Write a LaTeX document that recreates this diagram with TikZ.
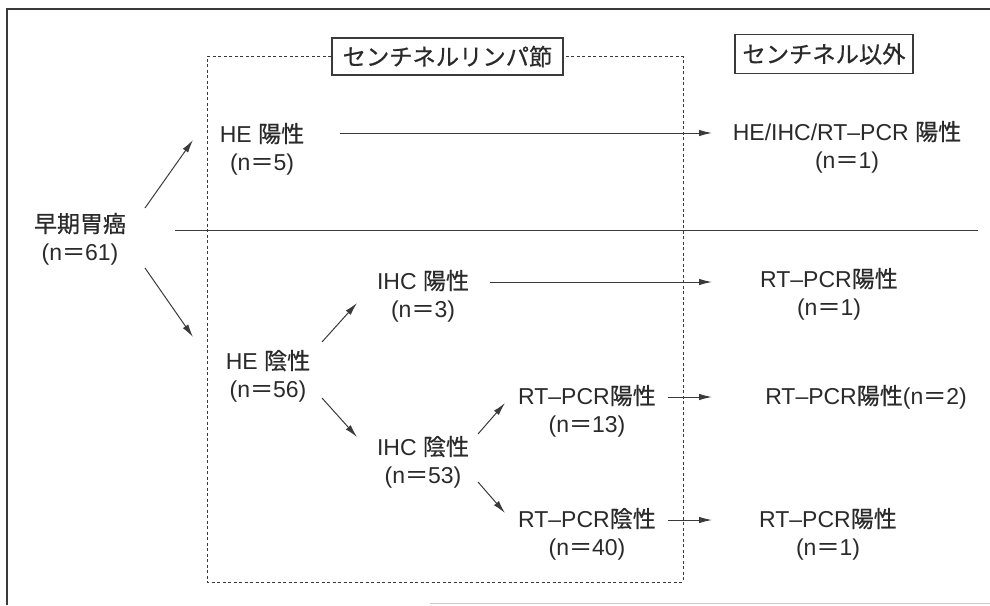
\documentclass[tikz,border=0pt]{standalone}
\usepackage{fontspec}
\setmainfont{Liberation Sans}
\newfontfamily\cjkf{Noto Sans CJK JP}[FakeBold=0.6]
\newcommand\jp[1]{{\cjkf #1}}
\usetikzlibrary{arrows.meta}
\definecolor{ink}{HTML}{2A2A2A}
\definecolor{lineink}{HTML}{3A3A3A}
\tikzset{
  lbl/.style={align=center, inner sep=0pt, text=ink, font=\fontsize{23pt}{28pt}\selectfont},
  titlebox/.style={draw=lineink, line width=1.3pt, inner xsep=5pt, inner ysep=4pt, text=ink, font=\fontsize{23.3pt}{26pt}\selectfont\cjkf},
  arr/.style={draw=lineink, line width=1pt, -{Latex[length=13pt,width=6.5pt]}},
  sep/.style={draw=lineink, line width=1pt},
  dashbox/.style={draw=lineink, line width=1pt, dash pattern=on 3pt off 2.5pt},
}
\begin{document}
\begin{tikzpicture}[x=1pt,y=-1pt]
\useasboundingbox (0,0) rectangle (990,605);
% outer frame
\coordinate (fbl) at (7,605);
\coordinate (ftl) at (7,9);
\coordinate (ftr) at (990,9);
\draw[lineink, line width=1.1pt] (fbl) -- (ftl) -- (ftr);
\coordinate (gb1) at (430,603);
\coordinate (gb2) at (990,603);
\draw[black!20, line width=1pt] (gb1) -- (gb2);

% title boxes
\node[titlebox, minimum width=231pt, minimum height=37pt] (t1) at (447.5,56.5) {センチネルリンパ節};
\node[titlebox, minimum width=178pt, minimum height=39pt] (t2) at (824,54) {センチネル以外};

% dashed box
\coordinate (dl) at (207,56.5);
\coordinate (dbl) at (207,582);
\coordinate (dbr) at (683,582);
\coordinate (dr) at (683,56.5);
\draw[dashbox] (t1.west) -- (dl) -- (dbl) -- (dbr) -- (dr) -- (t1.east);

% separator line
\coordinate (s1) at (175,230);
\coordinate (s2) at (978,230);
\draw[sep] (s1) -- (s2);

% nodes
\node[lbl] (root) at (80,239) {\jp{早期胃癌}\\(n\jp{＝}61)};
\node[lbl] (hep)  at (262,149) {HE \jp{陽性}\\(n\jp{＝}5)};
\node[lbl] (hen)  at (268,376) {HE \jp{陰性}\\(n\jp{＝}56)};
\node[lbl] (ihcp) at (423,296) {IHC \jp{陽性}\\(n\jp{＝}3)};
\node[lbl] (ihcn) at (423,462) {IHC \jp{陰性}\\(n\jp{＝}53)};
\node[lbl] (rtp)  at (587,411) {RT–PCR\jp{陽性}\\(n\jp{＝}13)};
\node[lbl] (rtn)  at (587,534) {RT–PCR\jp{陰性}\\(n\jp{＝}40)};
\node[lbl] (out1) at (847,147) {HE/IHC/RT–PCR \jp{陽性}\\(n\jp{＝}1)};
\node[lbl] (out2) at (829,294) {RT–PCR\jp{陽性}\\(n\jp{＝}1)};
\node[lbl] (out3) at (866,397) {RT–PCR\jp{陽性}(n\jp{＝}2)};
\node[lbl] (out4) at (828,534) {RT–PCR\jp{陽性}\\(n\jp{＝}1)};

% connectors
\draw[arr] ([shift={(65,-31)}]root.center) -- ([shift={(-69,-9)}]hep.center);
\draw[arr] ([shift={(65,29)}]root.center) -- ([shift={(-75,-39)}]hen.center);
\draw[arr] ([shift={(78,-16)}]hep.center) -- ([shift={(-135,-14)}]out1.center);
\draw[arr] ([shift={(54,-34)}]hen.center) -- ([shift={(-66,7)}]ihcp.center);
\draw[arr] ([shift={(54,22)}]hen.center) -- ([shift={(-66,-25)}]ihcn.center);
\draw[arr] ([shift={(67,-14)}]ihcp.center) -- ([shift={(-117,-12)}]out2.center);
\draw[arr] ([shift={(55,-28)}]ihcn.center) -- ([shift={(-82,-8)}]rtp.center);
\draw[arr] ([shift={(55,20)}]ihcn.center) -- ([shift={(-82,-21)}]rtn.center);
\draw[arr] ([shift={(81,-14)}]rtp.center) -- ([shift={(-154,0)}]out3.center);
\draw[arr] ([shift={(81,-14)}]rtn.center) -- ([shift={(-116,-14)}]out4.center);
\end{tikzpicture}
\end{document}
